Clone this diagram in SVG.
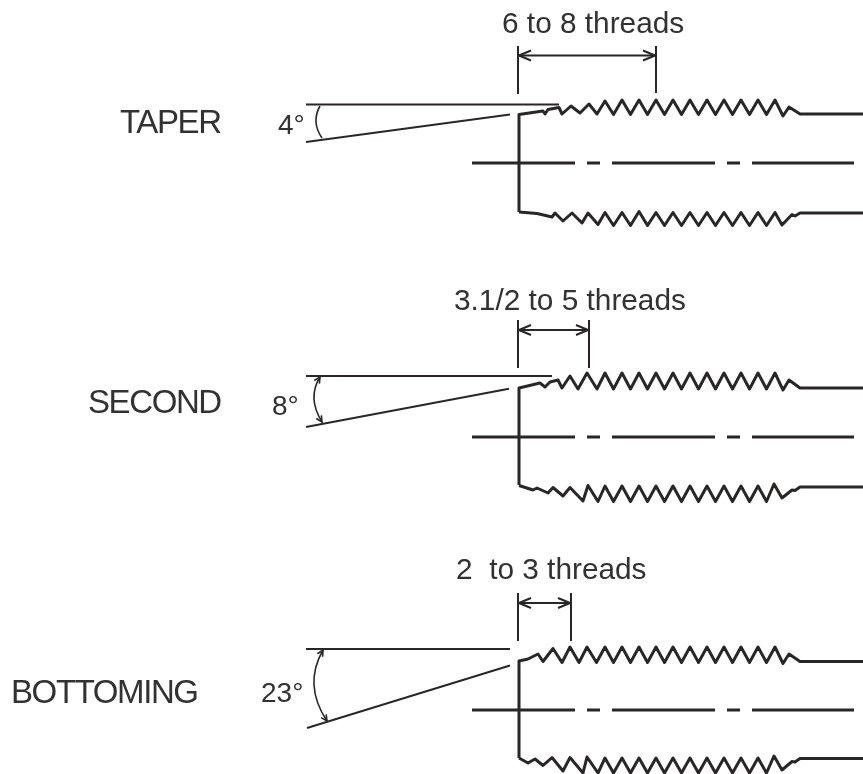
<svg xmlns="http://www.w3.org/2000/svg" width="863" height="774" viewBox="0 0 863 774">
<style>
text{font-family:"Liberation Sans",Arial,sans-serif;fill:#333031;font-size:29.800px}
.name{font-size:33px;letter-spacing:-1.400px}
.deg{font-size:28px}
.thin,.thick,.arc,.dim{fill:none;stroke:#2b2728;stroke-linejoin:round}
.thin{stroke-width:2}
.thick{stroke-width:3}
.arc{stroke-width:1.600}
.tipped{marker-start:url(#tip);marker-end:url(#tip)}
.dim{stroke-width:1.800;marker-start:url(#open);marker-end:url(#open)}
.centre{stroke-dasharray:103 12 13 12;stroke-width:3;stroke:#2b2728;fill:none}
.soft{filter:url(#soft)}
</style>
<defs>
<filter id="soft" x="-5%" y="-5%" width="110%" height="110%"><feGaussianBlur stdDeviation="0.450"/></filter>
<marker id="open" markerUnits="userSpaceOnUse" markerWidth="16" markerHeight="14" refX="15" refY="7" orient="auto-start-reverse" viewBox="0 0 16 14"><path d="M3 2 L15 7 L3 12" fill="none" stroke="#2b2728" stroke-width="2"/></marker>
<marker id="tip" markerUnits="userSpaceOnUse" markerWidth="12" markerHeight="10" refX="11" refY="5" orient="auto-start-reverse" viewBox="0 0 12 10"><path d="M5 2 L11 5 L5 8" fill="none" stroke="#2b2728" stroke-width="1.600"/></marker>
</defs>
<g id="taper" class="soft">
<text class="name" x="120" y="133">TAPER</text>
<text class="deg" x="278" y="134">4°</text>
<path class="thin" d="M306 104.500H559M306 142L510 114.500M518 46V94M656 46V93"/>
<path class="arc" d="M320 106Q311 122 322 138"/>
<path class="dim" d="M519 55.500H655"/>
<text x="502" y="33">6 to 8 threads</text>
<path class="thick" d="M519 212V114.500L543 111L545 114L548 109.500L559 107.500L562 114L571 106L580 113L589 104L597 114L605 101L613.500 114.500L622 100L630.500 114.500L639 100L647.500 114.500L656 100L664.500 114.500L673 100L681.500 114.500L690 100L698.500 114.500L707 100L715.500 114.500L724 100L732.500 114.500L741 100L749.500 114.500L758 100L766.500 114.500L775 100L783 116L789 107L800 114H863"/>
<path class="thick" d="M519 212L537 213.500L552 217L555 213L563 221L572 213L582 223L588 213L598 224.500L605 212.500L613.500 225.500L622 212.500L630.500 225.500L639 211.500L647.500 225.500L656 212.500L664.500 225.500L673 212.500L681.500 225.500L690 212.500L698.500 225.500L707 212.500L715.500 225.500L724 212.500L732.500 225.500L741 212.500L749.500 225.500L758 212.500L766.500 225.500L775 212.500L782 225L792 214.500L795 216L800 213H863"/>
<path class="centre" d="M472 163H854"/>
</g>
<g id="second" class="soft">
<text class="name" x="88" y="413">SECOND</text>
<text class="deg" x="272" y="415">8°</text>
<path class="thin" d="M306 376H552M306 427L509 388.700M518 320V368M589 320V368"/>
<path class="arc tipped" d="M320 377Q307 398 322 422"/>
<path class="dim" d="M519 330H588"/>
<text x="454" y="310">3.1/2 to 5 threads</text>
<path class="thick" d="M519 485V388L540 383L545 387L550 382L558 380L562 388L570 376L578 389L587 373L597 389L605 373L613.500 389L622 373L630.500 389L639 373L647.500 389L656 373L664.500 389L673 373L681.500 389L690 373L698.500 389L707 373L715.500 389L724 373L732.500 389L741 373L749.500 389L758 373L766.500 389L775 373L783 390L789 380L800 388H863"/>
<path class="thick" d="M519 485.500L533 490L537 488L548 493L553 487.500L563 496L570 487.500L583 501L588 485.500L598 501.500L605 486L613.500 501.500L622 486L630.500 501.500L639 486L647.500 501.500L656 486L664.500 501.500L673 486L681.500 501.500L690 486L698.500 501.500L707 486L715.500 501.500L724 486L732.500 501.500L741 486L749.500 501.500L758 486L766.500 501.500L774 484L782 498L792 490L795 490.500L800 487H863"/>
<path class="centre" d="M472 437H854"/>
</g>
<g id="bottoming" class="soft">
<text class="name" x="11" y="703">BOTTOMING</text>
<text class="deg" x="261" y="702">23°</text>
<path class="thin" d="M306 649H510M307 728L510 665.500M518 593V641M571 593V641"/>
<path class="arc tipped" d="M323 650Q303 685 327 721"/>
<path class="dim" d="M519 603H570"/>
<text x="456" y="579" xml:space="preserve">2  to 3 threads</text>
<path class="thick" d="M519 758V661L528 659L538 654L543 661.500L553 648.500L562 662.500L570 647L579 662.500L587 647L596.500 662.500L605 647L613.500 662.500L622 647L630.500 662.500L639 647L647.500 662.500L656 647L664.500 662.500L673 647L681.500 662.500L690 647L698.500 662.500L707 647L715.500 662.500L724 647L732.500 662.500L741 647L749.500 662.500L758 647L766.500 662.500L775 647L783 663.500L789 654L800 661.500H863"/>
<path class="thick" d="M519 758L528 763L535 759L543 765.500L552 757.500L563 771L570 757.500L583 773L587 757L598 773L605 758L613.500 773L622 758L630.500 773L639 758L647.500 773L656 758L664.500 773L673 758L681.500 773L690 758L698.500 773L707 758L715.500 773L724 758L732.500 773L741 758L749.500 773L758 758L766.500 773L774 756L782 770L792 761.500L795 762L800 758.500H863"/>
<path class="centre" d="M472 710H854"/>
</g>
</svg>
